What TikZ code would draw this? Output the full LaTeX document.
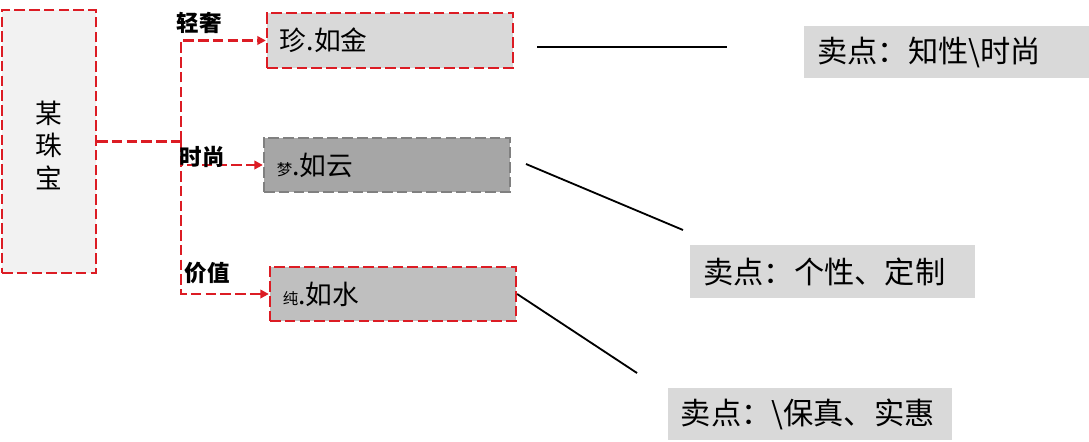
\documentclass[tikz,border=0pt]{standalone}
\usepackage{fontspec}
\setmainfont{Noto Sans CJK SC}
\usetikzlibrary{arrows.meta, positioning, calc}
\definecolor{linered}{RGB}{220,28,36}
\definecolor{boxlight}{RGB}{242,242,242}
\definecolor{boxgray}{RGB}{217,217,217}
\definecolor{boxmid}{RGB}{191,191,191}
\definecolor{boxdark}{RGB}{166,166,166}
\definecolor{edgegray}{RGB}{128,128,128}

\begin{document}
\begin{tikzpicture}[
        x=0.025cm, y=-0.025cm,
        redline/.style={draw=linered, line width=1.6pt, dash pattern=on 7.5pt off 3pt},
        brand/.style={rectangle, redline, fill=boxlight, minimum width=2.35cm, minimum height=6.575cm, align=center, font=\fontsize{19}{23}\selectfont},
        product/.style={rectangle, redline, minimum width=6.15cm, minimum height=1.36cm, text width=5.5cm, inner xsep=0.325cm, align=left, font=\fontsize{19}{22}\selectfont},
        selling/.style={rectangle, fill=boxgray, minimum height=1.3cm, text width=6.45cm, inner xsep=0.33cm, align=left, font=\fontsize{21.5}{25}\selectfont},
        branch/.style={redline, -{Triangle[length=6pt, width=6pt, fill=linered]}},
        tag/.style={font=\fontsize{16}{19}\selectfont\bfseries},
        pointer/.style={draw=black, line width=1.3pt}
    ]
        \useasboundingbox (0,0) rectangle (1089,441);

        % Nodes
        \node (brand) [brand] at (49,141.5) {\raisebox{-5.7pt}[\height][\depth]{\begin{tabular}{@{}c@{}}某\\珠\\宝\end{tabular}}};

        \node (zhen) [product, fill=boxgray] at (390,40.5) {珍.如金};
        \node (meng) [product, fill=boxdark, draw=edgegray] at (387,165) {{\fontsize{11}{13}\selectfont 梦}.如云};
        \node (chun) [product, fill=boxmid] at (393,294) {{\fontsize{11}{13}\selectfont 纯}.如水};

        \node (sell1) [selling] at (946.5,52) {卖点：知性\textbackslash 时尚};
        \node (sell2) [selling] at (832.5,271.5) {卖点：个性、定制};
        \node (sell3) [selling] at (810,414) {卖点：\textbackslash 保真、实惠};

        \coordinate (trunk) at (181,141.5);

        % Wires
        \draw[redline] (brand.east) -- (trunk);
        \draw[branch] (trunk) |- (zhen.west);
        \draw[branch] (trunk) |- (meng.west);
        \draw[branch] (trunk) |- (chun.west);

        \coordinate (p1a) at (537,47);
        \coordinate (p1b) at (727,47);
        \coordinate (p2a) at (526,164);
        \coordinate (p2b) at (683,230);
        \coordinate (p3b) at (637,373);
        \draw[pointer] (p1a) -- (p1b);
        \draw[pointer] (p2a) -- (p2b);
        \draw[pointer] (chun.east) -- (p3b);

        % Annotations
        \node (tagzhen) [tag] at (199,23) {轻奢};
        \node (tagmeng) [tag] at (202,157) {时尚};
        \node (tagchun) [tag] at (207,273) {价值};

    \end{tikzpicture}
\end{document}
